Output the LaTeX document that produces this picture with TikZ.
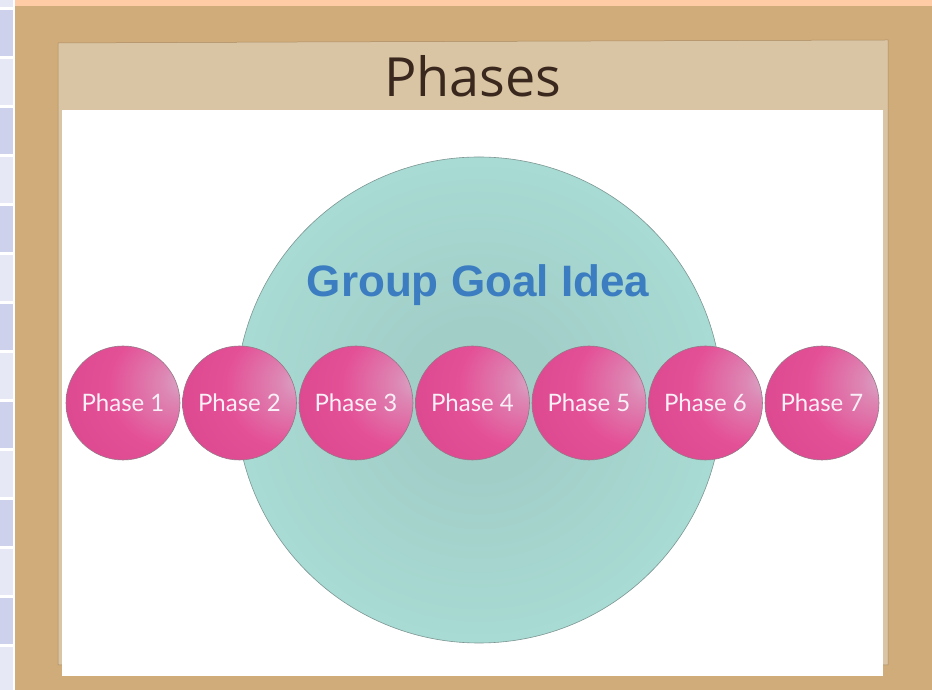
\documentclass[tikz,border=0pt]{standalone}
\usepackage{fontspec}
\usepackage{tikz}
\usepackage{xcolor}
\usetikzlibrary{positioning,calc,backgrounds}
\setmainfont{Liberation Sans}
\newfontfamily\phasefont{Lato}
\newfontfamily\headfont{Open Sans}

\definecolor{kraft}{RGB}{208,172,122}
\definecolor{cardtan}{RGB}{217,197,163}
\definecolor{cardedge}{RGB}{170,138,98}
\definecolor{peach}{RGB}{255,204,166}
\definecolor{lavcell}{RGB}{205,209,236}
\definecolor{lightcell}{RGB}{230,233,245}
\definecolor{goalteal}{RGB}{168,220,212}
\definecolor{glowc}{RGB}{162,206,200}
\definecolor{goalblue}{RGB}{59,125,192}
\definecolor{inkbrown}{RGB}{58,40,30}
\definecolor{phhi}{RGB}{216,172,200}
\definecolor{phmid}{RGB}{228,80,150}
\definecolor{phedge}{RGB}{214,66,138}

\pgfdeclareradialshading{phaseball}{\pgfpoint{28bp}{10bp}}{%
  color(0bp)=(phhi); color(8bp)=(phhi!60!phmid); color(26bp)=(phmid);
  color(60bp)=(phedge); color(90bp)=(phedge)}
\pgfdeclareradialshading{goalglow}{\pgforigin}{%
  color(0bp)=(glowc); color(8bp)=(glowc); color(26bp)=(goalteal);
  color(50bp)=(goalteal)}

\tikzset{
  phase ball/.style={circle, minimum size=114pt, inner sep=0pt,
    shading=phaseball, draw={rgb,255:red,150;green,120;blue,135}, line width=0.6pt,
    text={rgb,255:red,248;green,240;blue,246}, font=\phasefont\fontsize{24}{24}\selectfont},
  goal circle/.style={circle, minimum size=486pt, inner sep=0pt,
    shading=goalglow, draw={rgb,255:red,125;green,150;blue,148}, line width=0.6pt}
}

\begin{document}
\begin{tikzpicture}[x=1pt,y=1pt]
    \useasboundingbox (0,0) rectangle (932,690);

    % Side strip and top band
    \fill[white] (0,0) rectangle (15,690);
    \foreach \i in {-1,...,13} {
        \pgfmathsetmacro{\ytop}{690-10-49*\i}
        \ifodd\i
            \fill[lightcell] (0,\ytop) rectangle (12.5,\ytop-46.5);
        \else
            \fill[lavcell] (0,\ytop) rectangle (12.5,\ytop-46.5);
        \fi
    }
    \fill[kraft] (15,0) rectangle (932,684);
    \fill[peach] (15,684) rectangle (932,690);

    % Card and sheet
    \filldraw[fill=cardtan, draw=cardedge, line width=0.5pt]
        (58,25) -- (58,647) -- (300,648) -- (888,650) -- (888,25) -- cycle;
    \fill[white] (62,14) rectangle (883,580);

    % Title
    \node[font=\headfont\fontsize{54}{54}\selectfont, text=inkbrown,
          anchor=base] (title) at (473,593) {Phases};

    % Goal circle
    \node[goal circle] (goal) at (479,290) {};
    \node[font=\bfseries\fontsize{44}{44}\selectfont, text=goalblue, anchor=base]
        (goaltext) at (478,393) {Group Goal Idea};

    % Phase balls
    \foreach \i in {1,...,7} {
        \node[phase ball] (p\i) at ({123+116.5*(\i-1)},287) {Phase \i};
    }
\end{tikzpicture}
\end{document}
